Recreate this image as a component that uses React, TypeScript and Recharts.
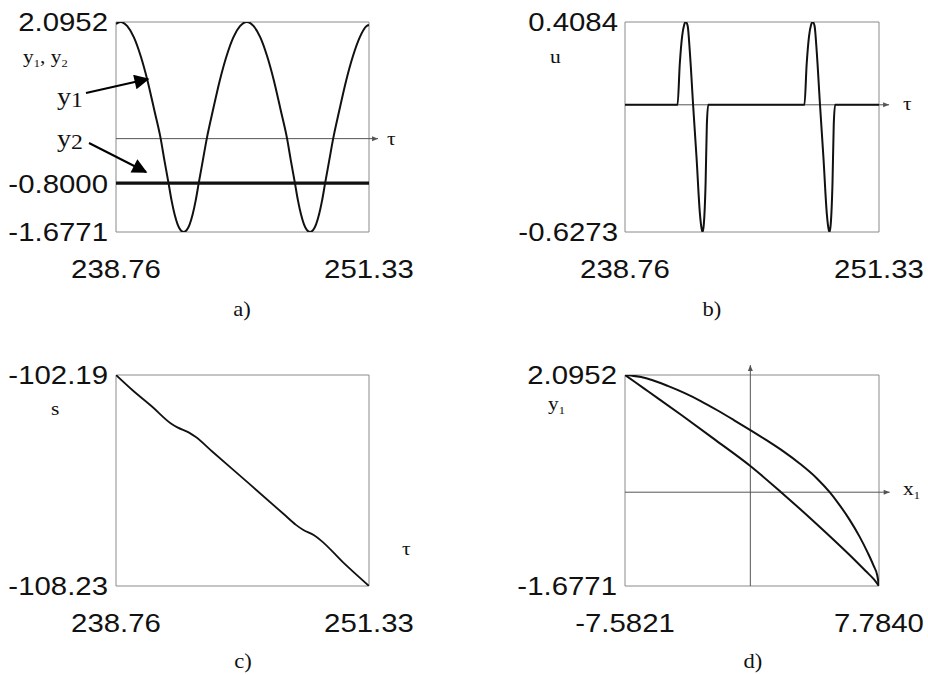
import React from "react";
import {
  LineChart, Line, XAxis, YAxis, ReferenceArea, ReferenceLine, ReferenceDot,
} from "recharts";

// a) y1 (oscillating) and y2 (constant) against tau
const tauA = [
  238.76, 238.98, 239.32, 239.65, 239.99, 240.32, 240.67, 240.98, 241.17, 241.37,
  241.52, 241.67, 241.82, 241.96, 242.12, 242.28, 242.42, 242.57, 242.72, 242.87,
  243.07, 243.27, 243.57, 243.92, 244.25, 244.59, 244.92, 245.26, 245.6, 245.93,
  246.27, 246.6, 246.95, 247.26, 247.45, 247.65, 247.8, 247.95, 248.1, 248.24,
  248.4, 248.56, 248.7, 248.85, 249.0, 249.15, 249.35, 249.55, 249.85, 250.2,
  250.53, 250.87, 251.2, 251.33,
];
const y1A = [
  2.06, 2.0952, 2.02, 1.82, 1.48, 1.05, 0.5, 0.0, -0.4, -0.8,
  -1.11, -1.36, -1.54, -1.64, -1.6771, -1.64, -1.54, -1.36, -1.11, -0.8,
  -0.4, 0.0, 0.5, 1.05, 1.48, 1.82, 2.02, 2.0952, 2.02, 1.82,
  1.48, 1.05, 0.5, 0.0, -0.4, -0.8, -1.11, -1.36, -1.54, -1.64,
  -1.6771, -1.64, -1.54, -1.36, -1.11, -0.8, -0.4, 0.0, 0.5, 1.05,
  1.48, 1.82, 2.02, 2.04,
];
const tauEnds = [238.76, 251.33];
const y2A = [-0.8, -0.8];

// b) control u against tau
const tauB = [
  238.76, 241.36, 241.47, 241.59, 241.69, 241.77, 241.86, 241.97, 242.13, 242.3,
  242.47, 242.55, 242.6, 242.66, 242.75, 242.81, 242.88, 247.64, 247.75, 247.87,
  247.97, 248.05, 248.14, 248.25, 248.41, 248.58, 248.75, 248.83, 248.88, 248.94,
  249.03, 249.09, 249.16, 251.33,
];
const uB = [
  0, 0, 0.2, 0.34, 0.395, 0.4084, 0.39, 0.26, 0, -0.26,
  -0.54, -0.61, -0.6273, -0.59, -0.38, -0.1, 0, 0, 0.2, 0.34,
  0.395, 0.4084, 0.39, 0.26, 0, -0.26, -0.54, -0.61, -0.6273, -0.59,
  -0.38, -0.1, 0, 0,
];

// c) s against tau
const tauC = [
  238.76, 239.57, 240.56, 241.47, 241.81, 242.39, 242.71, 243.54, 245.43, 247.09,
  247.7, 248.05, 248.6, 248.95, 250.07, 251.33,
];
const sC = [
  -102.19, -102.62, -103.1, -103.57, -103.69, -103.84, -103.96, -104.38, -105.33, -106.17,
  -106.48, -106.62, -106.78, -106.93, -107.57, -108.23,
];

// d) phase portrait y1 vs x1, upper and lower branch of the loop
const x1Upper = [-7.5821, -7.2, -6.6, -6.0, -5.0, -4.0, -3.0, -2.0, -1.0, 0.0, 1.0, 2.0, 3.0, 4.0, 4.8, 5.3, 6.0, 6.6, 7.1, 7.45, 7.68, 7.784];
const y1Upper = [2.0952, 2.085, 2.06, 2.01, 1.9, 1.775, 1.63, 1.465, 1.29, 1.11, 0.925, 0.73, 0.51, 0.255, 0.0, -0.19, -0.49, -0.79, -1.08, -1.31, -1.49, -1.6771];
const x1Lower = [-7.5821, -6.98, -6.17, -4.15, -2.12, 0.0, 1.86, 3.94, 5.96, 6.98, 7.48, 7.784];
const y1Lower = [2.0952, 1.97, 1.8, 1.375, 0.935, 0.468, 0.0, -0.55, -1.11, -1.41, -1.56, -1.6771];

const tauTicks = [238.76, 251.33];
const yTicksA = [2.0952, -0.8, -1.6771];
const yTicksB = [0.4084, -0.6273];
const yTicksC = [-102.19, -108.23];
const xTicksD = [-7.5821, 7.784];
const yTicksD = [2.0952, -1.6771];

const rowsA = tauA.map((tau, i) => ({ tau, y1: y1A[i] }));
const rowsA2 = tauEnds.map((tau, i) => ({ tau, y2: y2A[i] }));
const rowsB = tauB.map((tau, i) => ({ tau, u: uB[i] }));
const rowsC = tauC.map((tau, i) => ({ tau, s: sC[i] }));
const rowsUp = x1Upper.map((x1, i) => ({ x1, y1: y1Upper[i] }));
const rowsLow = x1Lower.map((x1, i) => ({ x1, y1: y1Lower[i] }));

const SANS = "'Liberation Sans', Arial, Helvetica, sans-serif";
const SERIF = "'Liberation Serif', 'Times New Roman', serif";
const STRETCH = 1.13;
const INK = "#111";
const BOX = "#8a8a8a";
const AXIS = "#555";

const W = 464;
const H_TOP = 337;
const H_BOT = 338;

function yTick(dec: number) {
  return (props: any) => {
    const { x, y, payload } = props;
    return (
      <g transform={`translate(${x},${y}) scale(${STRETCH},1)`}>
        <text textAnchor="end" dy="0.36em" fontSize={26} fontFamily={SANS} fill={INK}>
          {Number(payload.value).toFixed(dec)}
        </text>
      </g>
    );
  };
}

function xTick(dec: number) {
  return (props: any) => {
    const { x, y, payload } = props;
    return (
      <g transform={`translate(${x},${y}) scale(${STRETCH},1)`}>
        <text textAnchor="middle" dy="0.71em" fontSize={26} fontFamily={SANS} fill={INK}>
          {Number(payload.value).toFixed(dec)}
        </text>
      </g>
    );
  };
}

// small arrow heads at the ends of the zero axes
const headRight = (p: any) => (
  <polygon points={`${p.cx},${p.cy} ${p.cx - 6},${p.cy - 2.5} ${p.cx - 6},${p.cy + 2.5}`} fill={AXIS} />
);
const headUp = (p: any) => (
  <polygon points={`${p.cx},${p.cy} ${p.cx - 2.5},${p.cy + 6} ${p.cx + 2.5},${p.cy + 6}`} fill={AXIS} />
);

// axes are 1px wide so recharts still renders their tick labels
const axisProps = {
  tickSize: 0,
  axisLine: false,
  tickLine: false,
  interval: 0 as const,
  allowDataOverflow: true,
};

function PanelA() {
  return (
    <LineChart width={W} height={H_TOP} margin={{ top: 22, left: 115, right: 95, bottom: 104 }}>
      <XAxis dataKey="tau" type="number" domain={[238.76, 251.33]} ticks={tauTicks} height={1}
        tickMargin={28} tick={xTick(2)} {...axisProps} />
      <YAxis type="number" domain={[-1.6771, 2.0952]} ticks={yTicksA} width={1}
        tickMargin={8} tick={yTick(4)} {...axisProps} />
      <ReferenceArea x1={238.76} x2={251.33} y1={-1.6771} y2={2.0952} fill="none" stroke={BOX} strokeWidth={1} />
      <ReferenceLine segment={[{ x: 238.76, y: 0 }, { x: 251.78, y: 0 }]} stroke={AXIS} strokeWidth={1} ifOverflow="visible" />
      <ReferenceDot x={251.78} y={0} ifOverflow="visible" shape={headRight} />
      <Line data={rowsA2} dataKey="y2" type="linear" stroke={INK} strokeWidth={3.2} dot={false} isAnimationActive={false} />
      <Line data={rowsA} dataKey="y1" type="monotone" stroke={INK} strokeWidth={2} dot={false} isAnimationActive={false} />
    </LineChart>
  );
}

function PanelB() {
  return (
    <LineChart width={W} height={H_TOP} margin={{ top: 22, left: 160, right: 49, bottom: 104 }}>
      <XAxis dataKey="tau" type="number" domain={[238.76, 251.33]} ticks={tauTicks} height={1}
        tickMargin={28} tick={xTick(2)} {...axisProps} />
      <YAxis type="number" domain={[-0.6273, 0.4084]} ticks={yTicksB} width={1}
        tickMargin={7} tick={yTick(4)} {...axisProps} />
      <ReferenceArea x1={238.76} x2={251.33} y1={-0.6273} y2={0.4084} fill="none" stroke={BOX} strokeWidth={1} />
      <ReferenceLine segment={[{ x: 238.76, y: 0 }, { x: 251.83, y: 0 }]} stroke={AXIS} strokeWidth={1} ifOverflow="visible" />
      <ReferenceDot x={251.83} y={0} ifOverflow="visible" shape={headRight} />
      <Line data={rowsB} dataKey="u" type="monotone" stroke={INK} strokeWidth={2} dot={false} isAnimationActive={false} />
    </LineChart>
  );
}

function PanelC() {
  return (
    <LineChart width={W} height={H_BOT} margin={{ top: 38, left: 115, right: 95, bottom: 88 }}>
      <XAxis dataKey="tau" type="number" domain={[238.76, 251.33]} ticks={tauTicks} height={1}
        tickMargin={28} tick={xTick(2)} {...axisProps} />
      <YAxis type="number" domain={[-108.23, -102.19]} ticks={yTicksC} width={1}
        tickMargin={8} tick={yTick(2)} {...axisProps} />
      <ReferenceArea x1={238.76} x2={251.33} y1={-108.23} y2={-102.19} fill="none" stroke={BOX} strokeWidth={1} />
      <Line data={rowsC} dataKey="s" type="monotone" stroke={INK} strokeWidth={1.8} dot={false} isAnimationActive={false} />
    </LineChart>
  );
}

function PanelD() {
  return (
    <LineChart width={W} height={H_BOT} margin={{ top: 38, left: 160, right: 49, bottom: 88 }}>
      <XAxis dataKey="x1" type="number" domain={[-7.5821, 7.784]} ticks={xTicksD} height={1}
        tickMargin={28} tick={xTick(4)} {...axisProps} />
      <YAxis type="number" domain={[-1.6771, 2.0952]} ticks={yTicksD} width={1}
        tickMargin={8} tick={yTick(4)} {...axisProps} />
      <ReferenceArea x1={-7.5821} x2={7.784} y1={-1.6771} y2={2.0952} fill="none" stroke={BOX} strokeWidth={1} />
      <ReferenceLine segment={[{ x: -7.5821, y: 0 }, { x: 8.43, y: 0 }]} stroke={AXIS} strokeWidth={1} ifOverflow="visible" />
      <ReferenceDot x={8.43} y={0} ifOverflow="visible" shape={headRight} />
      <ReferenceLine segment={[{ x: 0, y: -1.6771 }, { x: 0, y: 2.274 }]} stroke={AXIS} strokeWidth={1} ifOverflow="visible" />
      <ReferenceDot x={0} y={2.274} ifOverflow="visible" shape={headUp} />
      <Line data={rowsUp} dataKey="y1" type="monotone" stroke={INK} strokeWidth={2} dot={false} isAnimationActive={false} />
      <Line data={rowsLow} dataKey="y1" type="monotone" stroke={INK} strokeWidth={2} dot={false} isAnimationActive={false} />
    </LineChart>
  );
}

// variable names and panel captions
function Labels() {
  const sub = (t: string, size = 11) => (
    <tspan fontSize={size} dy={4}>{t}</tspan>
  );
  return (
    <svg width={928} height={675} style={{ position: "absolute", left: 0, top: 0, pointerEvents: "none" }}
      fontFamily={SERIF} fill={INK}>
      <defs>
        <marker id="head" viewBox="0 0 10 10" refX="9" refY="5" markerWidth="17" markerHeight="15"
          markerUnits="userSpaceOnUse" orient="auto">
          <path d="M0,0 L10,5 L0,10 z" fill="#000" />
        </marker>
      </defs>
      <g transform={`scale(${STRETCH},1)`}>
        <text x={23 / STRETCH} y={63} fontSize={19}>y{sub("1")}<tspan dy={-4}>, y</tspan>{sub("2")}</text>
        <text x={57 / STRETCH} y={105} fontSize={25}>y<tspan fontSize={21} dy={2}>1</tspan></text>
        <text x={57 / STRETCH} y={147} fontSize={25}>y<tspan fontSize={21} dy={2}>2</tspan></text>
        <text x={387 / STRETCH} y={145} fontSize={19}>τ</text>
        <text x={550 / STRETCH} y={63} fontSize={19}>u</text>
        <text x={903 / STRETCH} y={110} fontSize={19}>τ</text>
        <text x={51 / STRETCH} y={415} fontSize={19}>s</text>
        <text x={402 / STRETCH} y={555} fontSize={19}>τ</text>
        <text x={548 / STRETCH} y={410} fontSize={19}>y{sub("1")}</text>
        <text x={903 / STRETCH} y={495} fontSize={19}>x{sub("1")}</text>
        <text x={242 / STRETCH} y={316} fontSize={20} textAnchor="middle">a)</text>
        <text x={712 / STRETCH} y={316} fontSize={20} textAnchor="middle">b)</text>
        <text x={243 / STRETCH} y={668} fontSize={20} textAnchor="middle">c)</text>
        <text x={753 / STRETCH} y={668} fontSize={20} textAnchor="middle">d)</text>
      </g>
      <line x1={86} y1={93} x2={148} y2={79} stroke="#000" strokeWidth={2} markerEnd="url(#head)" />
      <line x1={89} y1={143} x2={146} y2={172} stroke="#000" strokeWidth={2} markerEnd="url(#head)" />
    </svg>
  );
}

export default function App() {
  return (
    <div style={{ position: "absolute", left: 0, top: 0, width: 928, height: 675, background: "#fff" }}>
      <div style={{ position: "absolute", left: 0, top: 0 }}><PanelA /></div>
      <div style={{ position: "absolute", left: W, top: 0 }}><PanelB /></div>
      <div style={{ position: "absolute", left: 0, top: H_TOP }}><PanelC /></div>
      <div style={{ position: "absolute", left: W, top: H_TOP }}><PanelD /></div>
      <Labels />
    </div>
  );
}
